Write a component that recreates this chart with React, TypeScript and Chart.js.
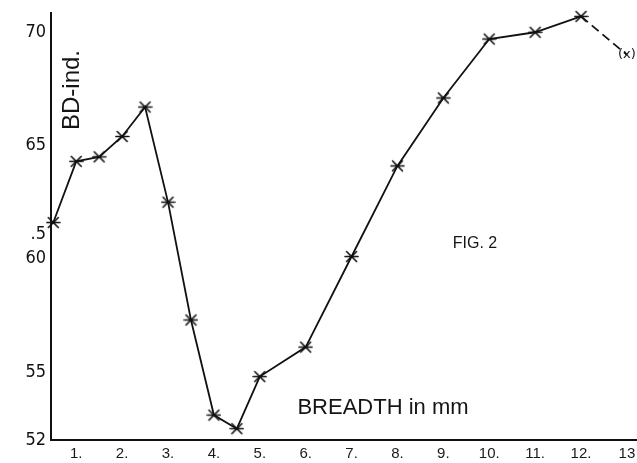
import React, { useEffect, useRef } from "react";
import { Chart, registerables } from "chart.js";

Chart.register(...registerables);

// Breadth in mm (x) and BD-index (y)
const breadthMm = [0.5, 1, 1.5, 2, 2.5, 3, 3.5, 4, 4.5, 5, 6, 7, 8, 9, 10, 11, 12];
const bdIndex = [61.6, 64.3, 64.5, 65.4, 66.7, 62.5, 57.3, 53.1, 52.5, 54.8, 56.1, 60.1, 64.1, 67.1, 69.7, 70.0, 70.7];
// uncertain extension (dashed) to the "(x)" point
const extBreadth = [12, 13];
const extIndex = [70.7, 69.0];

const xTickValues = [1, 2, 3, 4, 5, 6, 7, 8, 9, 10, 11, 12, 13];
const xTickLabels = ["1.", "2.", "3.", "4.", "5.", "6.", "7.", "8.", "9.", "10.", "11.", "12.", "13"];
const yTickValues = [52, 55, 60, 61.1, 65, 70];
const yTickLabels = ["52", "55", "60", ".5", "65", "70"];

function makeMarker(): HTMLCanvasElement {
  const c = document.createElement("canvas");
  c.width = 15;
  c.height = 15;
  const g = c.getContext("2d")!;
  g.strokeStyle = "#111";
  g.lineWidth = 1.6;
  g.lineCap = "round";
  g.beginPath();
  g.moveTo(2.5, 2.5);
  g.lineTo(12.5, 12.5);
  g.moveTo(12.5, 2.5);
  g.lineTo(2.5, 12.5);
  g.moveTo(1, 7.5);
  g.lineTo(14, 7.5);
  g.stroke();
  return c;
}

export default function App() {
  const ref = useRef<HTMLCanvasElement | null>(null);

  useEffect(() => {
    if (!ref.current) return;
    const marker = makeMarker();
    const textPlugin = {
      id: "texts",
      afterDraw(chart: any) {
        const ctx = chart.ctx;
        ctx.save();
        ctx.fillStyle = "#151515";
        // y axis title, rotated
        ctx.save();
        ctx.translate(72, 90);
        ctx.rotate(-Math.PI / 2);
        ctx.font = "24px 'Liberation Sans', Arial, sans-serif";
        ctx.textAlign = "center";
        ctx.textBaseline = "middle";
        ctx.fillText("BD-ind.", 0, 0);
        ctx.restore();
        // x axis title
        ctx.font = "22px 'Liberation Sans', Arial, sans-serif";
        ctx.textAlign = "center";
        ctx.textBaseline = "middle";
        ctx.fillText("BREADTH in mm", 383, 408);
        // figure label
        ctx.font = "16px 'Liberation Sans', Arial, sans-serif";
        ctx.fillText("FIG. 2", 475, 244);
        // "(x)" marker at uncertain point
        const meta = chart.getDatasetMeta(1);
        const p = meta.data[1];
        if (p) {
          ctx.font = "13px 'DejaVu Sans', sans-serif";
          ctx.fillText("(x)", p.x, p.y);
        }
        ctx.restore();
      },
    };

    const chart = new Chart(ref.current, {
      type: "line",
      data: {
        datasets: [
          {
            data: breadthMm.map((x, i) => ({ x, y: bdIndex[i] })),
            borderColor: "#111",
            borderWidth: 1.8,
            pointStyle: marker as any,
            pointRadius: 7,
            tension: 0,
            fill: false,
            clip: false as any,
          },
          {
            data: extBreadth.map((x, i) => ({ x, y: extIndex[i] })),
            borderColor: "#111",
            borderWidth: 1.8,
            borderDash: [9, 5],
            pointRadius: 0,
            tension: 0,
            fill: false,
            clip: false as any,
          },
        ],
      },
      options: {
        responsive: false,
        animation: false,
        layout: { autoPadding: false, padding: { top: 13, right: 0, left: 0, bottom: 0 } },
        plugins: {
          legend: { display: false },
          tooltip: { enabled: false },
        },
        scales: {
          x: {
            type: "linear",
            min: 0.45,
            max: 13.22,
            grid: { display: false, drawTicks: false },
            border: { display: true, color: "#111", width: 2 },
            afterBuildTicks: (scale: any) => {
              scale.ticks = xTickValues.map((v) => ({ value: v }));
            },
            afterFit: (scale: any) => {
              scale.height = 23;
              scale.paddingRight = 0;
              scale.paddingLeft = 0;
            },
            ticks: {
              padding: 5,
              color: "#1a1a1a",
              font: { family: "'Liberation Sans', Arial, sans-serif", size: 15 },
              maxRotation: 0,
              autoSkip: false,
              callback: (v: any) => {
                const i = xTickValues.indexOf(Number(v));
                return i >= 0 ? xTickLabels[i] : "";
              },
            },
          },
          y: {
            type: "linear",
            min: 52,
            max: 70.85,
            grid: { display: false, drawTicks: false },
            border: { display: true, color: "#111", width: 2 },
            afterBuildTicks: (scale: any) => {
              scale.ticks = yTickValues.map((v) => ({ value: v }));
            },
            afterFit: (scale: any) => {
              scale.width = 51;
              scale.paddingTop = 0;
              scale.paddingBottom = 0;
            },
            ticks: {
              padding: 5,
              color: "#111",
              font: { family: "'Liberation Sans Narrow', 'DejaVu Sans Condensed', sans-serif", size: 18 },
              autoSkip: false,
              callback: (v: any) => {
                const i = yTickValues.indexOf(Number(v));
                return i >= 0 ? yTickLabels[i] : "";
              },
            },
          },
        },
      },
      plugins: [textPlugin],
    });
    return () => chart.destroy();
  }, []);

  return (
    <div style={{ position: "absolute", left: 0, top: 0, width: 637, height: 463, background: "#fff" }}>
      <canvas ref={ref} width={637} height={463} style={{ display: "block", width: 637, height: 463 }} />
    </div>
  );
}
